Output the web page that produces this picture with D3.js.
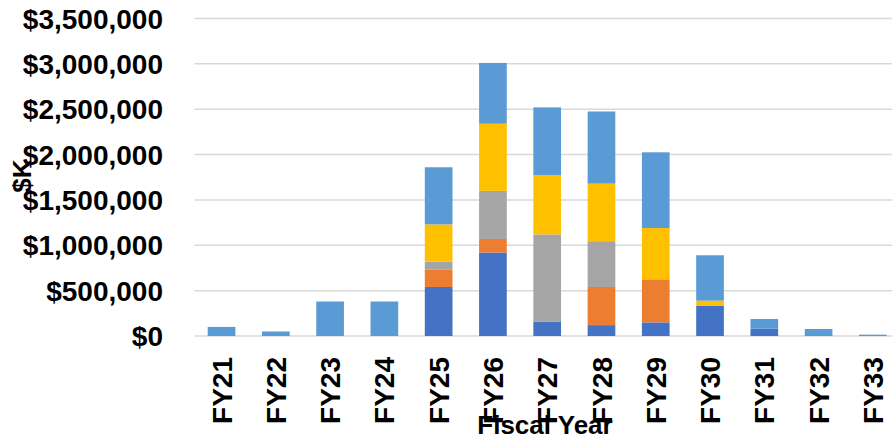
<!DOCTYPE html>
<html>
<head>
<meta charset="utf-8">
<script src="https://cdn.jsdelivr.net/npm/d3@7"></script>
<style>
  body { margin: 0; background: #fff; }
  svg { display: block; }
  text { font-family: 'Liberation Sans', Arial, sans-serif; font-weight: bold; fill: #000; }
</style>
</head>
<body>
<svg class="chart"></svg>
<script>
// fiscal years on the x axis
var categories = ['FY21', 'FY22', 'FY23', 'FY24', 'FY25', 'FY26', 'FY27', 'FY28', 'FY29', 'FY30', 'FY31', 'FY32', 'FY33']

// stacked series, bottom to top ($K)
var series1 = [0, 0, 0, 0, 540000, 920000, 160000, 120000, 150000, 335000, 80000, 0, 0]
var series2 = [0, 0, 0, 0, 190000, 150000, 0, 420000, 475000, 0, 0, 0, 0]
var series3 = [0, 0, 0, 0, 90000, 530000, 960000, 505000, 0, 0, 0, 0, 0]
var series4 = [0, 0, 0, 0, 410000, 740000, 655000, 635000, 565000, 55000, 0, 0, 0]
var series5 = [100000, 50000, 380000, 380000, 630000, 670000, 745000, 795000, 835000, 500000, 107000, 77000, 15000]

var seriesNames = ['Series1', 'Series2', 'Series3', 'Series4', 'Series5']
var seriesColors = ['#4472C4', '#ED7D31', '#A5A5A5', '#FFC000', '#5B9BD5']
var yTicks = [0, 500000, 1000000, 1500000, 2000000, 2500000, 3000000, 3500000]

var width = 892
var height = 435
var plotLeft = 194.4
var plotRight = 900
var plotTop = 18.5
var plotBottom = 336

var rows = categories.map(function (c, i) {
  return {
    cat: c,
    Series1: series1[i],
    Series2: series2[i],
    Series3: series3[i],
    Series4: series4[i],
    Series5: series5[i]
  }
})

var svg = d3.select('.chart')
  .attr('width', width)
  .attr('height', height)

var x = d3.scaleBand()
  .domain(categories)
  .range([plotLeft, plotRight])
  .paddingInner(0.49)
  .paddingOuter(0.245)

var y = d3.scaleLinear()
  .domain([0, 3500000])
  .range([plotBottom, plotTop])

// gridlines
svg.append('g')
  .selectAll('line')
  .data(yTicks)
  .enter()
  .append('line')
  .attr('x1', plotLeft)
  .attr('x2', plotRight)
  .attr('y1', function (d) { return y(d) })
  .attr('y2', function (d) { return y(d) })
  .style('stroke', '#d9d9d9')
  .style('stroke-width', 1.5)

// y tick labels
var fmt = d3.format(',')
svg.append('g')
  .selectAll('text')
  .data(yTicks)
  .enter()
  .append('text')
  .attr('x', 163)
  .attr('y', function (d) { return y(d) })
  .attr('dy', '0.36em')
  .style('text-anchor', 'end')
  .style('font-size', '28px')
  .text(function (d) { return '$' + fmt(d) })

var stack = d3.stack().keys(seriesNames)
var layers = stack(rows)

svg.append('g')
  .selectAll('g')
  .data(layers)
  .enter()
  .append('g')
  .style('fill', function (d, i) { return seriesColors[i] })
  .selectAll('rect')
  .data(function (d) { return d })
  .enter()
  .append('rect')
  .attr('x', function (d) { return x(d.data.cat) })
  .attr('width', x.bandwidth())
  .attr('y', function (d) { return y(d[1]) })
  .attr('height', function (d) { return y(d[0]) - y(d[1]) })

// x labels, rotated
svg.append('g')
  .selectAll('text')
  .data(categories)
  .enter()
  .append('text')
  .attr('transform', function (d) {
    return 'translate(' + (x(d) + x.bandwidth() / 2) + ',357) rotate(-90)'
  })
  .attr('dy', '0.36em')
  .style('text-anchor', 'end')
  .style('font-size', '28px')
  .text(function (d) { return d })

// axis titles
svg.append('text')
  .attr('x', 545)
  .attr('y', 434)
  .style('text-anchor', 'middle')
  .style('font-size', '26px')
  .text('Fiscal Year')

svg.append('text')
  .attr('transform', 'translate(22,176) rotate(-90)')
  .attr('dy', '0.36em')
  .style('text-anchor', 'middle')
  .style('font-size', '26px')
  .text('$K')
</script>
</body>
</html>
